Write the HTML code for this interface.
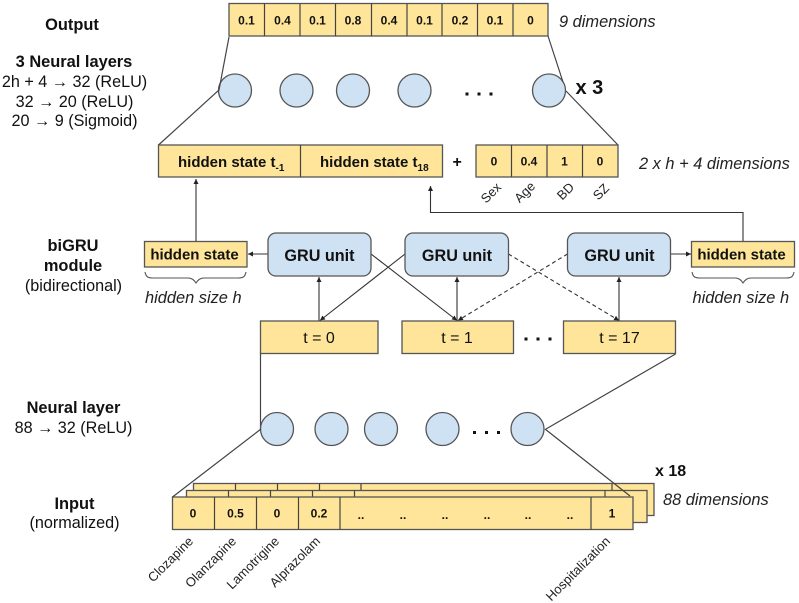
<!DOCTYPE html>
<html><head><meta charset="utf-8"><style>
html,body{margin:0;padding:0;background:#fff}
svg{display:block}
text{font-family:"Liberation Sans",sans-serif;fill:#111}
.b{font-weight:bold}
.m{text-anchor:middle}
.h{font-size:16.4px}
.r{font-size:16.2px}
.i{font-size:16.4px;font-style:italic;fill:#222}
.c{font-size:12px;font-weight:bold;text-anchor:middle}
.s{font-size:15px;font-weight:bold}
.g{font-size:16.2px;font-weight:bold;text-anchor:middle}
.t{font-size:16px;text-anchor:middle}
.l{font-size:13px;text-anchor:end;fill:#222}
.y{fill:#ffe599;stroke:#555;stroke-width:1.3}
.u{fill:#cfe2f3;stroke:#555;stroke-width:1.3}
.k{stroke:#444;stroke-width:1.2;fill:none}
.a{stroke:#333;stroke-width:1.1;fill:none}
.d{stroke:#333;stroke-width:1.1;fill:none;stroke-dasharray:4 3}
.p{stroke:#555;stroke-width:1.1;fill:none}
</style></head><body>
<svg width="799" height="603" viewBox="0 0 799 603" xmlns="http://www.w3.org/2000/svg">
<defs>
<marker id="ah" markerWidth="7" markerHeight="7" refX="5" refY="2.5" orient="auto-start-reverse" markerUnits="userSpaceOnUse"><path d="M0,0 L5,2.5 L0,5 Z" fill="#222"/></marker>
</defs>

<!-- left labels -->
<text class="b h m" x="72" y="30">Output</text>
<text class="b h m" x="74" y="67">3 Neural layers</text>
<text class="r m" x="74.500" y="87">2h + 4 → 32 (ReLU)</text>
<text class="r m" x="74.500" y="107">32 → 20 (ReLU)</text>
<text class="r m" x="74.500" y="126">20 → 9 (Sigmoid)</text>
<text class="b h m" x="73" y="251">biGRU</text>
<text class="b h m" x="73" y="271">module</text>
<text class="r m" x="73.500" y="291">(bidirectional)</text>
<text class="b h m" x="73.500" y="413">Neural layer</text>
<text class="r m" x="73.500" y="433">88 → 32 (ReLU)</text>
<text class="b h m" x="74.500" y="509">Input</text>
<text class="r m" x="74.500" y="528">(normalized)</text>

<!-- output row -->
<rect class="y" x="229" y="3.500" width="319" height="32.500"/>
<path class="k" d="M264.500 3.500V36M300 3.500V36M335.500 3.500V36M371.500 3.500V36M407 3.500V36M442 3.500V36M477.500 3.500V36M513 3.500V36"/>
<text class="c" x="246.500" y="24.500">0.1</text>
<text class="c" x="282.500" y="24.500">0.4</text>
<text class="c" x="317.500" y="24.500">0.1</text>
<text class="c" x="353" y="24.500">0.8</text>
<text class="c" x="389" y="24.500">0.4</text>
<text class="c" x="424.500" y="24.500">0.1</text>
<text class="c" x="460" y="24.500">0.2</text>
<text class="c" x="495" y="24.500">0.1</text>
<text class="c" x="530.500" y="24.500">0</text>
<text class="i" x="559" y="27">9 dimensions</text>

<!-- top circles -->
<circle class="u" cx="235" cy="90.500" r="16.500"/>
<circle class="u" cx="296.500" cy="90.500" r="16.500"/>
<circle class="u" cx="353" cy="90.500" r="16.500"/>
<circle class="u" cx="414.500" cy="90.500" r="16.500"/>
<circle class="u" cx="549" cy="90.500" r="16.500"/>
<g fill="#111"><rect x="465.500" y="92.500" width="3" height="3"/><rect x="477.500" y="92.500" width="3" height="3"/><rect x="489.500" y="92.500" width="3" height="3"/></g>
<text class="b" x="575.500" y="94" font-size="20">x 3</text>
<path class="k" d="M229 37L219 90L158.500 145M548 36L563 82M566 91L618 145"/>

<!-- hidden bar -->
<rect class="y" x="158.500" y="145" width="284" height="32"/>
<path class="k" d="M300.500 145V177"/>
<text class="s" x="178" y="167">hidden state t<tspan font-size="10" dy="4">-1</tspan></text>
<text class="s" x="320" y="167">hidden state t<tspan font-size="10" dy="4">18</tspan></text>
<text class="b" x="452.500" y="167" font-size="16">+</text>
<rect class="y" x="476" y="145" width="142" height="32"/>
<path class="k" d="M511.500 145V177M547 145V177M582.500 145V177"/>
<text class="c" x="494" y="165.500">0</text>
<text class="c" x="529" y="165.500">0.4</text>
<text class="c" x="564.500" y="165.500">1</text>
<text class="c" x="600" y="165.500">0</text>
<text class="i" x="639" y="169">2 x h + 4 dimensions</text>
<text class="l" transform="translate(502,188) rotate(-45)">Sex</text>
<text class="l" transform="translate(536,187) rotate(-45)">Age</text>
<text class="l" transform="translate(575,188) rotate(-45)">BD</text>
<text class="l" transform="translate(610,189) rotate(-45)">SZ</text>

<!-- hidden state boxes -->
<rect class="y" x="144.500" y="241.500" width="102.500" height="25.500"/>
<text class="s m" x="194.500" y="259.500" text-anchor="middle">hidden state</text>
<rect class="y" x="691.500" y="241.500" width="103" height="25.500"/>
<text class="s m" x="741.500" y="259.500" text-anchor="middle">hidden state</text>
<path class="p" d="M145 272c1 5 3 6 8 6H188c4 0 6 2 8 5c2-3 4-5 8-5H238c5 0 7-1 8-6"/>
<path class="p" d="M692 272c1 5 3 6 8 6H735c4 0 6 2 8 5c2-3 4-5 8-5H786c5 0 7-1 8-6"/>
<text class="i" x="145" y="303">hidden size h</text>
<text class="i" x="692.500" y="303">hidden size h</text>

<!-- connectors -->
<path class="a" d="M196 241V179" marker-end="url(#ah)" stroke-width="1.2"/>
<path class="a" d="M743 241V212.500H430.500V186" marker-end="url(#ah)"/>
<path class="a" d="M268 254H248" marker-end="url(#ah)"/>
<path class="a" d="M671 254H691" marker-end="url(#ah)"/>
<path class="a" d="M319 277V321" marker-start="url(#ah)"/>
<path class="a" d="M457 277V321" marker-start="url(#ah)"/>
<path class="a" d="M619 277V321" marker-start="url(#ah)"/>
<path class="a" d="M371 254L457 320.500" marker-end="url(#ah)"/>
<path class="a" d="M405 254L320 320.500" marker-end="url(#ah)"/>
<path class="d" d="M508.500 254L619 320.500" marker-end="url(#ah)"/>
<path class="d" d="M567.500 254L458 320.500" marker-end="url(#ah)"/>

<!-- GRU units -->
<rect class="u" x="268" y="233" width="103" height="43" rx="8"/>
<rect class="u" x="405" y="233" width="103.500" height="43" rx="8"/>
<rect class="u" x="567.500" y="233" width="103" height="43" rx="8"/>
<text class="g" x="319.500" y="261">GRU unit</text>
<text class="g" x="457" y="261">GRU unit</text>
<text class="g" x="619.500" y="261">GRU unit</text>

<!-- time boxes -->
<rect class="y" x="260.500" y="321" width="117.500" height="32.500"/>
<rect class="y" x="402" y="321" width="111.500" height="32.500"/>
<rect class="y" x="563.500" y="321" width="112" height="32.500"/>
<text class="t" x="319" y="343">t = 0</text>
<text class="t" x="457" y="343">t = 1</text>
<text class="t" x="619.500" y="343">t = 17</text>
<g fill="#111"><rect x="524.500" y="337.500" width="3" height="3"/><rect x="536.500" y="337.500" width="3" height="3"/><rect x="548.500" y="337.500" width="3" height="3"/></g>

<!-- bottom circles -->
<path class="k" d="M260.500 353.500V429M675.500 354L546 429"/>
<circle class="u" cx="277" cy="429" r="16.500"/>
<circle class="u" cx="331.500" cy="429" r="16.500"/>
<circle class="u" cx="381" cy="429" r="16.500"/>
<circle class="u" cx="442.500" cy="429" r="16.500"/>
<circle class="u" cx="527.500" cy="429" r="16.500"/>
<g fill="#111"><rect x="473" y="431" width="3" height="3"/><rect x="485" y="431" width="3" height="3"/><rect x="497" y="431" width="3" height="3"/></g>

<!-- input stack -->
<rect class="y" x="193.500" y="483.500" width="460.500" height="32"/>
<path class="k" d="M235.500 483.500V491M277.500 483.500V491M319.500 483.500V491M361 483.500V491M612 483.500V491"/>
<rect class="y" x="186.500" y="490.500" width="460.500" height="32"/>
<path class="k" d="M228.500 490.500V497M270.500 490.500V497M312.500 490.500V497M354.500 490.500V497M605 490.500V497"/>
<rect class="y" x="172.500" y="497" width="460.500" height="32.500"/>
<path class="k" d="M214.500 497V529.500M256.500 497V529.500M298.500 497V529.500M340 497V529.500M591 497V529.500"/>
<text class="c" x="193" y="517.500">0</text>
<text class="c" x="235.500" y="517.500">0.5</text>
<text class="c" x="277" y="517.500">0</text>
<text class="c" x="319" y="517.500">0.2</text>
<text class="c" x="361" y="519">..</text>
<text class="c" x="403" y="519">..</text>
<text class="c" x="445" y="519">..</text>
<text class="c" x="487" y="519">..</text>
<text class="c" x="528" y="519">..</text>
<text class="c" x="570" y="519">..</text>
<text class="c" x="612" y="517.500">1</text>
<path class="k" d="M261 429L172.500 497M545 429L630 496"/>
<text class="b" x="655" y="476" font-size="16">x 18</text>
<text class="i" x="663" y="505">88 dimensions</text>
<text class="l" transform="translate(194,542) rotate(-45)">Clozapine</text>
<text class="l" transform="translate(237,542) rotate(-45)">Olanzapine</text>
<text class="l" transform="translate(280,542) rotate(-45)">Lamotrigine</text>
<text class="l" transform="translate(321,542) rotate(-45)">Alprazolam</text>
<text class="l" transform="translate(611,542) rotate(-45)">Hospitalization</text>
</svg>
</body></html>
